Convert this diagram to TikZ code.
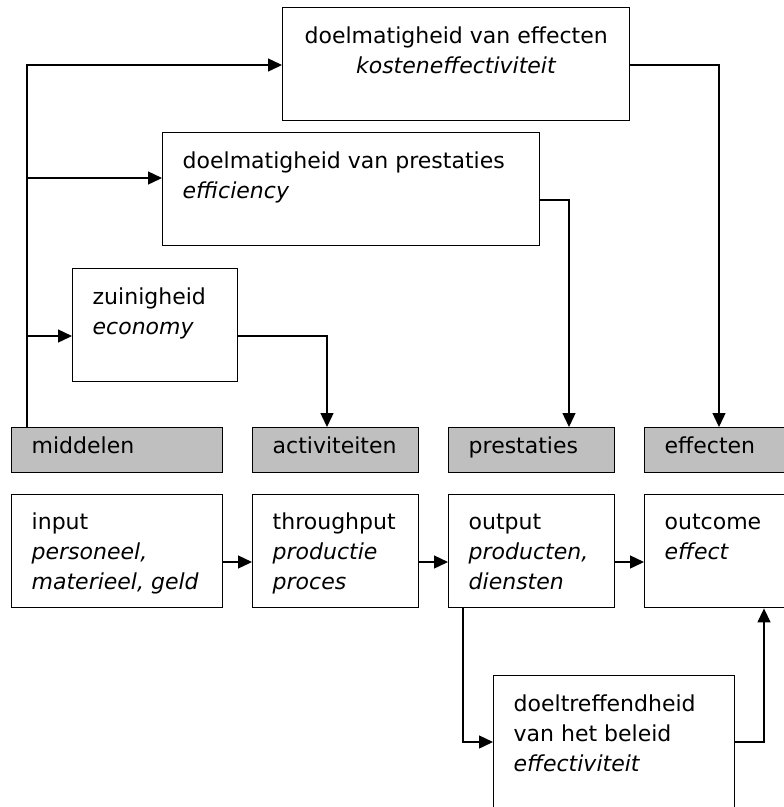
\documentclass[tikz,border=0pt]{standalone}
\usepackage{fontspec}
\setmainfont{DejaVu Sans}
\usetikzlibrary{arrows.meta,calc}
\newcommand\bxl[4]{\parbox[c][#2][t]{#1}{\raggedright\leftskip=20pt\rule{0pt}{#3}#4}}
\newcommand\bxc[4]{\parbox[c][#2][t]{#1}{\centering\rule{0pt}{#3}#4}}
\begin{document}
\begin{tikzpicture}[x=1pt,y=-1pt,
  font=\fontsize{22}{30}\selectfont,
  box/.style={draw=black,line width=1.4pt,inner sep=0pt,anchor=north west,fill=white},
  gbox/.style={box,fill=black!25},
  conn/.style={line width=1.4pt},
  arr/.style={conn,-{Triangle[length=14pt,width=13pt]}}]
\useasboundingbox (0,0) rectangle (784,807);
\clip (0,0) rectangle (784,807);
% top boxes
\node[box] (b1) at (282,7) {\bxc{347pt}{113pt}{36pt}{doelmatigheid van effecten\\ \textit{kosteneffectiviteit}}};
\node[box] (b2) at (162,132) {\bxl{377pt}{113pt}{36pt}{doelmatigheid van prestaties\\ \textit{efficiency}}};
\node[box] (b3) at (72,268) {\bxl{165pt}{113pt}{36pt}{zuinigheid\\ \textit{economy}}};
% grey boxes
\node[gbox] (mid) at (11,427) {\bxl{211pt}{45pt}{26pt}{middelen}};
\node[gbox] (act) at (252,427) {\bxl{166pt}{45pt}{26pt}{activiteiten}};
\node[gbox] (pre) at (448,427) {\bxl{166pt}{45pt}{26pt}{prestaties}};
\node[gbox] (eff) at (644,427) {\bxl{166pt}{45pt}{26pt}{effecten}};
% bottom row
\node[box] (inp) at (11,494) {\bxl{211pt}{113pt}{35pt}{input\\ \textit{personeel,}\\ \textit{materieel, geld}}};
\node[box] (thr) at (252,494) {\bxl{166pt}{113pt}{35pt}{throughput\\ \textit{productie}\\ \textit{proces}}};
\node[box] (out) at (448,494) {\bxl{166pt}{113pt}{35pt}{output\\ \textit{producten,}\\ \textit{diensten}}};
\node[box] (oc) at (644,494) {\bxl{166pt}{113pt}{35pt}{outcome\\ \textit{effect}}};
\node[box] (b4) at (493,675) {\bxl{241pt}{150pt}{36pt}{doeltreffendheid\\ van het beleid\\ \textit{effectiviteit}}};
% trunk
\coordinate (t) at ($(mid.north west)+(16,0)$);
\draw[arr] (t) |- ($(b1.north west)+(0,58)$);
\draw[arr] (t) |- ($(b2.north west)+(0,46)$);
\draw[arr] (t) |- ($(b3.north west)+(0,68)$);
% top boxes down to grey boxes
\draw[arr] ($(b3.north east)+(0,68)$) -| ($(act.north west)+(75,0)$);
\draw[arr] ($(b2.north east)+(0,68)$) -| ($(pre.north west)+(121,0)$);
\draw[arr] ($(b1.north east)+(0,58)$) -| ($(eff.north west)+(75,0)$);
% bottom chain
\draw[arr] ($(inp.north east)+(0,68)$) -- ($(thr.north west)+(0,68)$);
\draw[arr] ($(thr.north east)+(0,68)$) -- ($(out.north west)+(0,68)$);
\draw[arr] ($(out.north east)+(0,68)$) -- ($(oc.north west)+(0,68)$);
\draw[arr] ($(out.south west)+(15,0)$) |- ($(b4.north west)+(0,67)$);
\draw[arr] ($(b4.north east)+(0,67)$) -| ($(oc.south west)+(120,0)$);
\end{tikzpicture}
\end{document}
